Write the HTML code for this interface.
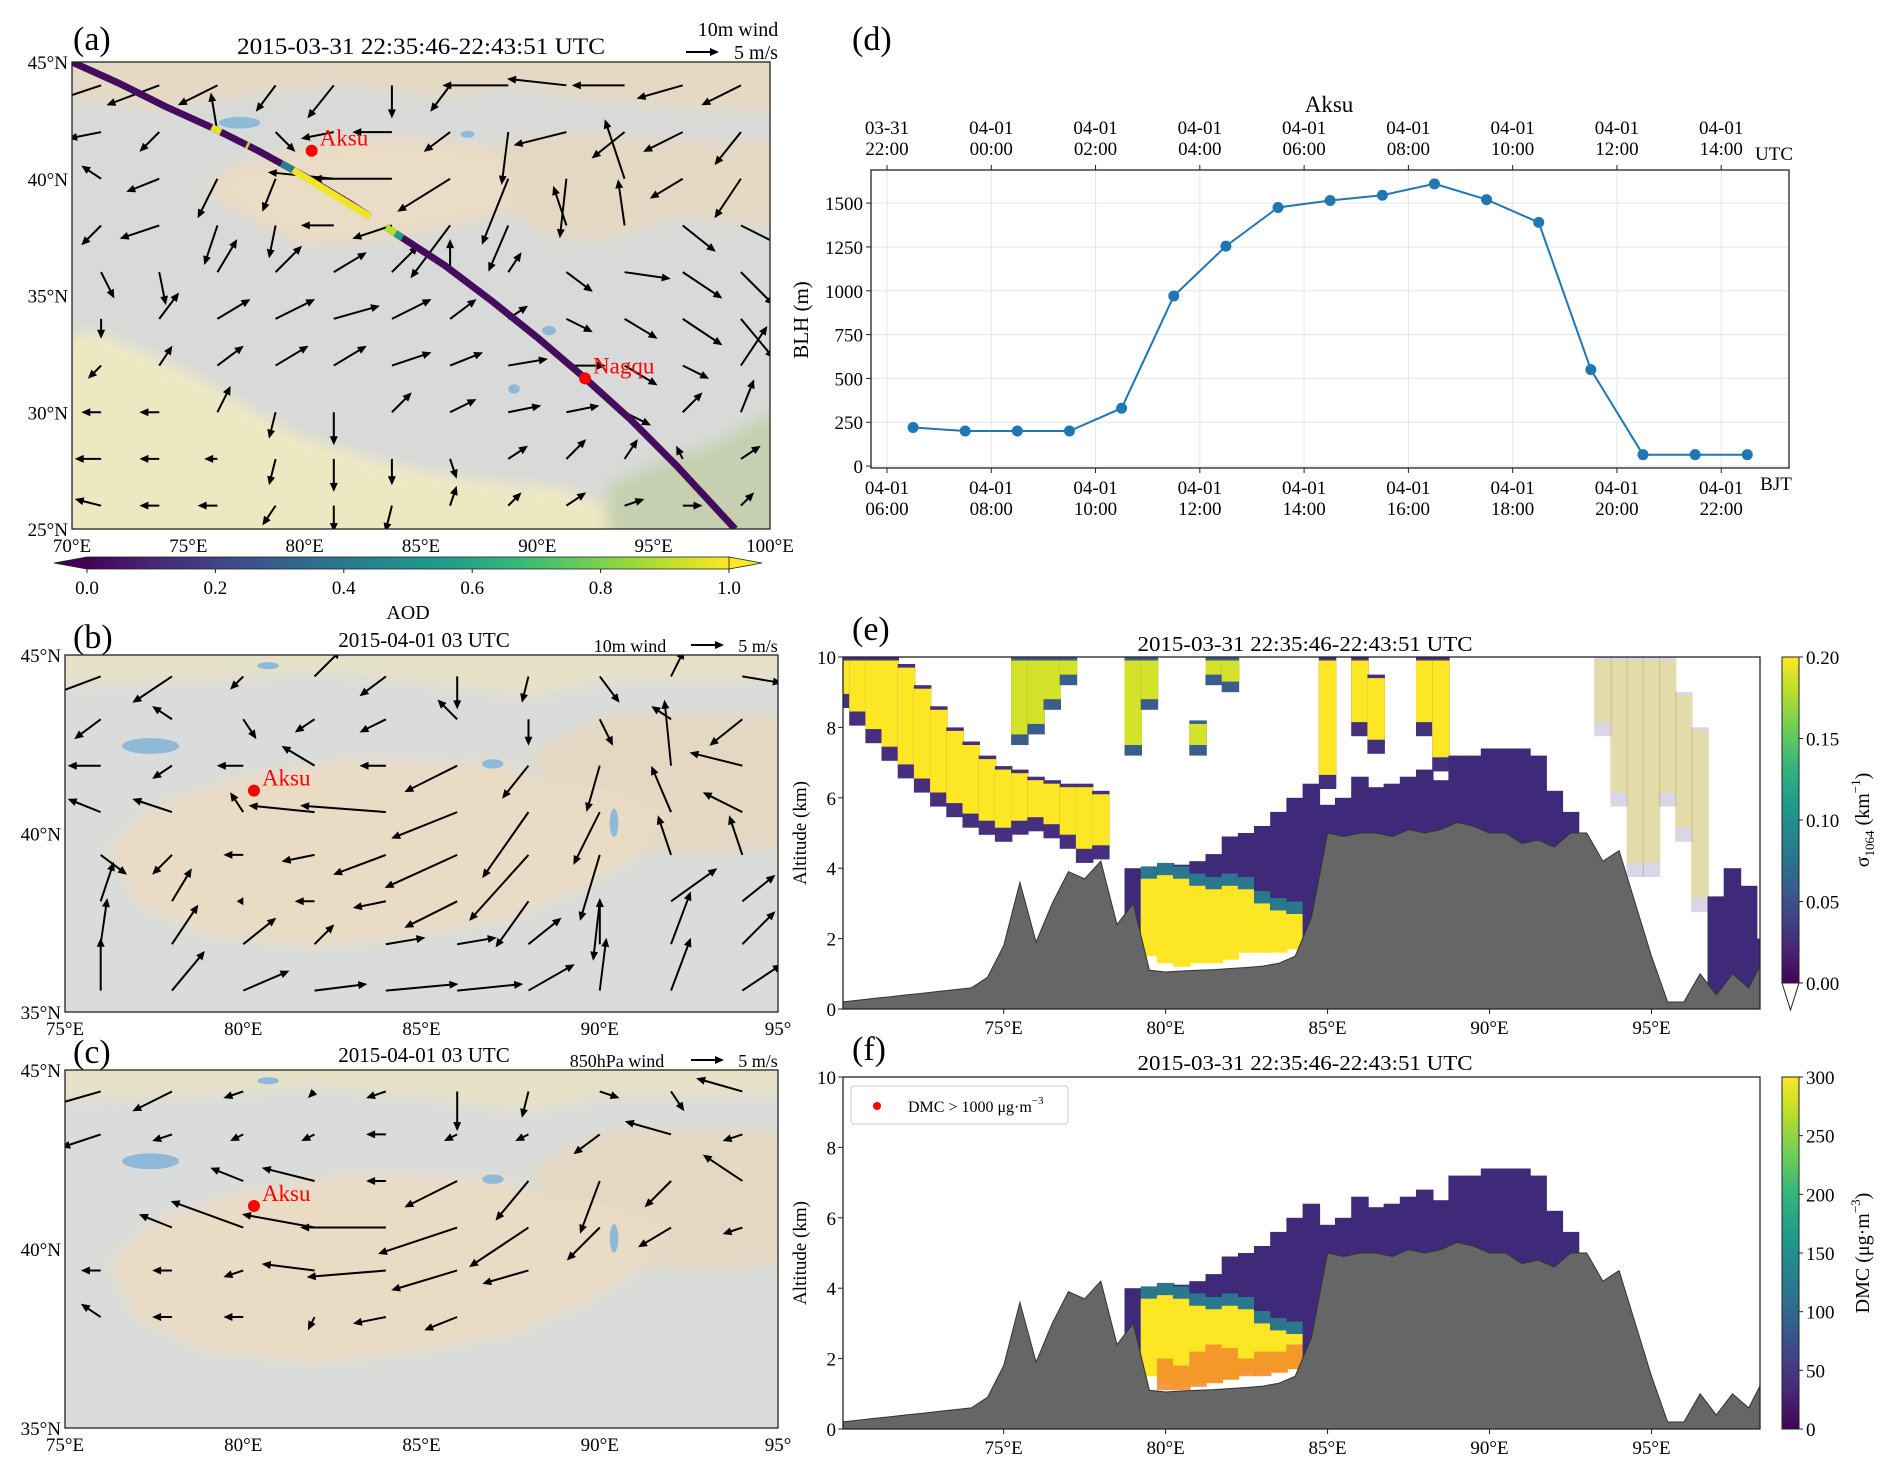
<!DOCTYPE html>
<html><head><meta charset="utf-8">
<style>
html,body{margin:0;padding:0;background:#fff;}
svg{display:block;font-family:"Liberation Serif","DejaVu Serif",serif;}
</style></head>
<body>
<svg id="fig" xmlns="http://www.w3.org/2000/svg" width="1892" height="1471" viewBox="0 0 1892 1471">
<defs>
  <filter id="soft" x="-5%" y="-5%" width="110%" height="110%"><feGaussianBlur stdDeviation="7"/></filter>
  <clipPath id="clipA"><rect x="72" y="62" width="698" height="467"/></clipPath>
  <clipPath id="clipB"><rect x="65" y="655" width="713" height="357"/></clipPath>
  <clipPath id="clipC"><rect x="65" y="1070" width="713" height="358"/></clipPath>
  <clipPath id="clipE"><rect x="843" y="657" width="917" height="352"/></clipPath>
  <clipPath id="clipF"><rect x="843" y="1077" width="917" height="352"/></clipPath>
  <linearGradient id="virH" x1="0" y1="0" x2="1" y2="0">
    <stop offset="0" stop-color="#440154"/><stop offset="0.11" stop-color="#482878"/><stop offset="0.22" stop-color="#3e4989"/><stop offset="0.33" stop-color="#31688e"/><stop offset="0.44" stop-color="#26828e"/><stop offset="0.56" stop-color="#1f9e89"/><stop offset="0.67" stop-color="#35b779"/><stop offset="0.78" stop-color="#6ece58"/><stop offset="0.89" stop-color="#b5de2b"/><stop offset="1" stop-color="#fde725"/>
  </linearGradient>
  <linearGradient id="virV" x1="0" y1="1" x2="0" y2="0">
    <stop offset="0" stop-color="#440154"/><stop offset="0.11" stop-color="#482878"/><stop offset="0.22" stop-color="#3e4989"/><stop offset="0.33" stop-color="#31688e"/><stop offset="0.44" stop-color="#26828e"/><stop offset="0.56" stop-color="#1f9e89"/><stop offset="0.67" stop-color="#35b779"/><stop offset="0.78" stop-color="#6ece58"/><stop offset="0.89" stop-color="#b5de2b"/><stop offset="1" stop-color="#fde725"/>
  </linearGradient>
</defs>

<text x="73" y="50" font-size="34">(a)</text>
<text x="421" y="54" font-size="23" text-anchor="middle" textLength="368" lengthAdjust="spacingAndGlyphs">2015-03-31 22:35:46-22:43:51 UTC</text>
<text x="738" y="36" font-size="20" text-anchor="middle">10m wind</text>
<text x="756" y="59" font-size="20" text-anchor="middle">5 m/s</text>

<text x="73" y="648" font-size="34">(b)</text>
<text x="408" y="619" font-size="20" text-anchor="middle">AOD</text>
<text x="424" y="647" font-size="21" text-anchor="middle">2015-04-01 03 UTC</text>
<text x="630" y="652" font-size="18" text-anchor="middle">10m wind</text>
<text x="758" y="652" font-size="18" text-anchor="middle">5 m/s</text>

<text x="73" y="1063" font-size="34">(c)</text>
<text x="424" y="1062" font-size="21" text-anchor="middle">2015-04-01 03 UTC</text>
<text x="617" y="1067" font-size="18" text-anchor="middle">850hPa wind</text>
<text x="758" y="1067" font-size="18" text-anchor="middle">5 m/s</text>

<text x="852" y="50" font-size="34">(d)</text>
<text x="1329" y="112" font-size="23" text-anchor="middle">Aksu</text>
<text x="1774" y="160" font-size="19" text-anchor="middle">UTC</text>
<text x="1776" y="490" font-size="19" text-anchor="middle">BJT</text>
<text x="0" y="0" font-size="21" text-anchor="middle" transform="translate(808,320) rotate(-90)">BLH (m)</text>

<text x="852" y="640" font-size="34">(e)</text>
<text x="1305" y="651" font-size="21" text-anchor="middle" textLength="335" lengthAdjust="spacingAndGlyphs">2015-03-31 22:35:46-22:43:51 UTC</text>
<text x="0" y="0" font-size="19" text-anchor="middle" transform="translate(806,833) rotate(-90)">Altitude (km)</text>
<text x="0" y="0" font-size="20" text-anchor="middle" transform="translate(1869,820) rotate(-90)">σ<tspan font-size="13" dy="5">1064</tspan><tspan dy="-5"> (km</tspan><tspan font-size="13" dy="-9">−1</tspan><tspan dy="9">)</tspan></text>

<text x="852" y="1060" font-size="34">(f)</text>
<text x="1305" y="1070" font-size="21" text-anchor="middle" textLength="335" lengthAdjust="spacingAndGlyphs">2015-03-31 22:35:46-22:43:51 UTC</text>
<text x="0" y="0" font-size="19" text-anchor="middle" transform="translate(806,1253) rotate(-90)">Altitude (km)</text>
<text x="0" y="0" font-size="20" text-anchor="middle" transform="translate(1869,1253) rotate(-90)">DMC (μg·m<tspan font-size="13" dy="-9">−3</tspan><tspan dy="9">)</tspan></text>
</svg>

<script>
// ================= DATA =================
const blhHours = [6.5,7.5,8.5,9.5,10.5,11.5,12.5,13.5,14.5,15.5,16.5,17.5,18.5,19.5,20.5,21.5,22.5];
const blhValues = [220,200,200,200,330,970,1255,1475,1515,1545,1610,1520,1390,550,65,65,65];
const blhYTicks = [0,250,500,750,1000,1250,1500];
const bjtTickHours = [6,8,10,12,14,16,18,20,22];
const bjtTickLabels = ["04-01\n06:00","04-01\n08:00","04-01\n10:00","04-01\n12:00","04-01\n14:00","04-01\n16:00","04-01\n18:00","04-01\n20:00","04-01\n22:00"];
const utcTickLabels = ["03-31\n22:00","04-01\n00:00","04-01\n02:00","04-01\n04:00","04-01\n06:00","04-01\n08:00","04-01\n10:00","04-01\n12:00","04-01\n14:00"];

const trackLon = [70,72,74,76,78,80,82,84,86,88,90,92,94,96,98.5];
const trackLat = [45,44.1,43.1,42.2,41.2,40.1,38.9,37.6,36.3,34.8,33.2,31.5,29.7,27.7,25];
const trackBaseAOD = 0.03;
const segStart = [76.0,77.5,79.0,79.5,83.5,83.9];
const segEnd   = [76.4,77.6,79.5,82.8,83.9,84.2];
const segAOD   = [0.95,0.9,0.45,0.98,0.9,0.55];

const windALons = [71.25,73.75,76.25,78.75,81.25,83.75,86.25,88.75,91.25,93.75,96.25,98.75];
const windALats = [44,42,40,38,36,34,32,30,28,26];
const windAU = [
 [-9,-8,-6,-3,-4,0,-3,-10,-9,-8,-7,-6],
 [-5,-3,-1,3,-5,-6,-4,-1,-8,-5,-6,-4],
 [-3,-5,-3,-2,-10,-12,-8,-4,-1,-3,-5,-4],
 [-3,-6,-2,-1,-5,-6,-6,-3,-2,-1,5,6],
 [2,1,3,4,5,4,0,2,4,7,6,5],
 [0,3,5,6,7,6,4,3,4,5,6,5],
 [-2,2,4,5,5,6,5,6,6,5,4,4],
 [-3,-3,2,-1,0,3,4,5,5,4,3,2],
 [-4,-3,-2,-1,0,0,1,3,3,2,-1,3],
 [-4,-3,-3,-2,0,-1,1,2,3,3,3,2]];
const windAV = [
 [-3,-3,-3,-4,-5,-5,-4,0,1,0,-2,-3],
 [-1,-3,6,-3,-1,0,-3,-8,-2,-4,-3,-5],
 [2,-2,-6,-5,1,0,-5,-10,-9,9,-3,-6],
 [-3,-2,-6,-5,0,-2,-8,-7,6,7,-4,-3],
 [-4,-5,5,4,3,4,5,3,-3,-1,-4,-5],
 [-3,4,3,3,2,3,3,2,-2,-3,-4,-6],
 [-2,3,3,3,3,2,2,1,0,-3,-2,6],
 [0,0,4,-4,-5,3,2,1,1,-2,3,5],
 [0,0,0,-4,-5,-4,-3,2,3,3,2,2],
 [1,0,0,-3,-4,-4,3,2,2,1,0,2]];

const windBLons = [76,78,80,82,84,86,88,90,92,94];
const windBLats = [44.4,43.2,41.9,40.6,39.4,38.1,36.9,35.6];
const windBU = [
 [-8,-6,-2,4,-4,0,-1,3,2,6],
 [-4,-3,2,-3,-4,-3,0,2,-3,-5],
 [-5,-3,-4,-5,-4,-8,-4,-2,-1,-8],
 [-5,-6,-2,-10,-13,-10,-7,-4,-3,-6],
 [4,-3,-3,-5,-8,-11,-9,-3,-2,-2],
 [2,3,-1,-3,-5,-8,-5,-1,7,5],
 [1,4,5,3,6,6,5,0,3,5],
 [0,5,7,8,11,10,7,1,3,6]];
const windBV = [
 [-3,-4,-2,4,-3,-5,-4,-4,4,-1],
 [-3,2,-3,-2,-2,3,-4,-4,2,-4],
 [0,-2,0,3,0,-4,-5,-7,10,2],
 [2,2,3,1,1,-4,-10,-8,7,3],
 [-3,-3,0,-1,-3,-5,-10,-10,6,6],
 [6,5,0,0,-1,-4,-7,-9,5,4],
 [7,6,4,3,1,1,4,7,8,5],
 [8,6,3,1,1,1,4,8,8,4]];
const windCU = [
 [-7,-6,-3,-1,-3,0,-1,3,2,-7],
 [-6,-3,-2,-2,-3,-2,-2,-4,-7,-3],
 [null,null,-5,-8,-3,-8,-5,-3,-4,-6],
 [null,-5,-11,-11,-13,-12,-9,-5,-5,-3],
 [-3,-3,-3,-8,-12,-10,-7,null,null,null],
 [-3,-3,-3,-1,-5,-5,null,null,null,null],
 [null,null,null,null,null,null,null,null,null,null],
 [null,null,null,null,null,null,null,null,null,null]];
const windCV = [
 [-2,-3,-1,-1,-1,-6,-4,-1,-3,2],
 [-2,-1,-1,-1,0,-1,-1,-3,2,-1],
 [null,null,2,2,0,-4,-6,-8,-4,4],
 [null,2,4,2,0,-4,-6,-5,-3,-1],
 [0,0,-1,1,-1,-3,-2,null,null,null],
 [2,0,0,-2,-1,-2,null,null,null,null],
 [null,null,null,null,null,null,null,null,null,null],
 [null,null,null,null,null,null,null,null,null,null]];

const colLon = [70,70.5,71,71.5,72,72.5,73,73.5,74,74.5,75,75.5,76,76.5,77,77.5,78,78.5,79,79.5,80,80.5,81,81.5,82,82.5,83,83.5,84,84.5,85,85.5,86,86.5,87,87.5,88,88.5,89,89.5,90,90.5,91,91.5,92,92.5,93,93.5,94,94.5,95,95.5,96,96.5,97,97.5,98,98.5];
const surfaceAlt = [0.2,0.25,0.3,0.35,0.4,0.45,0.5,0.55,0.6,0.9,1.8,3.6,1.9,3.0,3.9,3.7,4.2,2.4,3.0,1.1,1.05,1.08,1.1,1.12,1.15,1.18,1.22,1.3,1.5,2.6,5.0,4.9,5.0,5.0,4.9,5.1,5.0,5.1,5.3,5.2,5.0,5.0,4.7,4.8,4.6,5.0,5.0,4.2,4.5,3.0,1.5,0.2,0.2,1.0,0.4,1.0,0.6,1.5];
const cloudABot = [8.8,8.3,7.8,7.3,6.8,6.4,6.0,5.7,5.4,5.2,5.0,5.2,5.3,5.1,4.8,4.4,4.5,0,0,0,0,0,0,0,0,0,0,0,0,0,6.5,0,8.0,7.5,0,0,8.0,7.0,0,0,0,0,0,0,0,0,0,8.0,6.0,4.0,4.0,6.0,5.0,3.0,0,0,0,0];
const cloudATop = [10,10,10,10,9.8,9.2,8.6,8.0,7.6,7.2,6.9,6.8,6.6,6.5,6.4,6.4,6.2,0,0,0,0,0,0,0,0,0,0,0,0,0,10,0,10,9.5,0,0,10,10,0,0,0,0,0,0,0,0,0,10,10,10,10,10,9,8,0,0,0,0];
const cloudBBot = [0,0,0,0,0,0,0,0,0,0,0,7.5,7.8,8.5,9.2,0,0,0,7.2,8.5,0,0,7.2,9.2,9.0,0,0,0,0,0,0,0,0,0,0,0,0,0,0,0,0,0,0,0,0,0,0,0,0,0,0,0,0,0,0,0,0,0];
const cloudBTop = [0,0,0,0,0,0,0,0,0,0,0,10,10,10,10,0,0,0,10,10,0,0,8.2,10,10,0,0,0,0,0,0,0,0,0,0,0,0,0,0,0,0,0,0,0,0,0,0,0,0,0,0,0,0,0,0,0,0,0];
const aerTop = [0,0,0,0,0,0,0,0,0,0,0,0,0,0,0,0,0,0,4.0,3.8,3.9,4.1,4.2,4.4,4.9,5.0,5.2,5.6,6.0,6.4,5.8,6.0,6.6,6.3,6.4,6.6,6.8,6.5,7.2,7.2,7.4,7.4,7.4,7.2,6.2,5.6,0,0,0,0,0,0,0,0,3.2,4.0,3.5,2.0];
const dustBot = [0,0,0,0,0,0,0,0,0,0,0,0,0,0,0,0,0,0,0,1.5,1.3,1.2,1.3,1.3,1.4,1.6,1.6,1.6,1.7,0,0,0,0,0,0,0,0,0,0,0,0,0,0,0,0,0,0,0,0,0,0,0,0,0,0,0,0,0];
const dustTop = [0,0,0,0,0,0,0,0,0,0,0,0,0,0,0,0,0,0,0,3.7,3.8,3.7,3.5,3.4,3.5,3.4,3.0,2.8,2.7,0,0,0,0,0,0,0,0,0,0,0,0,0,0,0,0,0,0,0,0,0,0,0,0,0,0,0,0,0];
const dmcHighBot = [0,0,0,0,0,0,0,0,0,0,0,0,0,0,0,0,0,0,0,0,1.1,1.1,1.2,1.3,1.4,1.5,1.5,1.6,1.7,0,0,0,0,0,0,0,0,0,0,0,0,0,0,0,0,0,0,0,0,0,0,0,0,0,0,0,0,0];
const dmcHighTop = [0,0,0,0,0,0,0,0,0,0,0,0,0,0,0,0,0,0,0,0,2.0,1.8,2.2,2.4,2.3,2.0,2.2,2.2,2.4,0,0,0,0,0,0,0,0,0,0,0,0,0,0,0,0,0,0,0,0,0,0,0,0,0,0,0,0,0];
const altTicks = [0,2,4,6,8,10];
const lonTicksEF = [75,80,85,90,95];
const cbETicks = [0,0.05,0.10,0.15,0.20];
const cbFTicks = [0,50,100,150,200,250,300];

// ================= HELPERS =================
const NS = 'http://www.w3.org/2000/svg';
const svg = document.getElementById('fig');
function mk(tag, attrs, parent){
  const e = document.createElementNS(NS, tag);
  for (const k in attrs) e.setAttribute(k, attrs[k]);
  (parent || svg).appendChild(e);
  return e;
}
const VIR = ['#440154','#482878','#3e4989','#31688e','#26828e','#1f9e89','#35b779','#6ece58','#b5de2b','#fde725'];
function hex2rgb(h){return [parseInt(h.substr(1,2),16),parseInt(h.substr(3,2),16),parseInt(h.substr(5,2),16)];}
function viridis(t){
  t = Math.max(0, Math.min(1, t));
  const p = t*(VIR.length-1), i = Math.min(Math.floor(p), VIR.length-2), f = p-i;
  const a = hex2rgb(VIR[i]), b = hex2rgb(VIR[i+1]);
  return 'rgb('+a.map((v,k)=>Math.round(v+(b[k]-v)*f)).join(',')+')';
}
function interpLat(lon){
  for (let i=0;i<trackLon.length-1;i++){
    if (lon>=trackLon[i] && lon<=trackLon[i+1]){
      const f=(lon-trackLon[i])/(trackLon[i+1]-trackLon[i]);
      return trackLat[i]+f*(trackLat[i+1]-trackLat[i]);
    }
  }
  return trackLat[trackLat.length-1];
}
function arrowPath(x, y, dx, dy){
  const L = Math.hypot(dx, dy);
  if (L < 0.5) return '';
  const ux = dx/L, uy = dy/L, px = -uy, py = ux;
  const hl = Math.min(9, L), hw = 4, w = 1.0;
  const bx = x + ux*(L-hl), by = y + uy*(L-hl);
  const pts = [
    [x+px*w, y+py*w], [bx+px*w, by+py*w], [bx+px*hw, by+py*hw], [x+dx, y+dy],
    [bx-px*hw, by-py*hw], [bx-px*w, by-py*w], [x-px*w, y-py*w]];
  return 'M'+pts.map(p=>p[0].toFixed(1)+','+p[1].toFixed(1)).join('L')+'Z';
}

// ================= MAP PANELS =================
function makeMap(cfg){
  const X = lon => cfg.x0 + (lon-cfg.lon0)/(cfg.lon1-cfg.lon0)*(cfg.x1-cfg.x0);
  const Y = lat => cfg.y1 - (lat-cfg.lat0)/(cfg.lat1-cfg.lat0)*(cfg.y1-cfg.y0);
  const g = mk('g', {'clip-path':'url(#'+cfg.clip+')'});
  
  
  const base = mk('rect', {x:cfg.x0-20, y:cfg.y0-20, width:cfg.x1-cfg.x0+40, height:cfg.y1-cfg.y0+40, fill:cfg.base}, g);
  
  
  const rg = mk('g', {filter:'url(#soft)'}, g);
  
  
  cfg.regions.forEach(r=>{
    const poly = mk('polygon', {points:r.pts.map(p=>X(p[0]).toFixed(1)+','+Y(p[1]).toFixed(1)).join(' '), fill:r.fill}, rg);
    
    
  });
  (cfg.lakes||[]).forEach(l=>{
    const e = mk('ellipse', {cx:X(l[0]), cy:Y(l[1]), rx:l[2]*(cfg.x1-cfg.x0)/(cfg.lon1-cfg.lon0), ry:l[3]*(cfg.y1-cfg.y0)/(cfg.lat1-cfg.lat0), fill:'#8fb9d9'}, g);
    
    
  });
  const scale = cfg.arrowScale;
  for (let r=0;r<cfg.wLats.length;r++){
    for (let c=0;c<cfg.wLons.length;c++){
      const u = cfg.wU[r][c], v = cfg.wV[r][c];
      if (u===null || v===null) continue;
      const d = arrowPath(X(cfg.wLons[c]), Y(cfg.wLats[r]), u*scale, -v*scale);
      if (!d) continue;
      const a = mk('path', {d:d, fill:'#000'}, g);
      
      
    }
  }
  cfg.top && cfg.top(g, X, Y);
  const fr = mk('rect', {x:cfg.x0, y:cfg.y0, width:cfg.x1-cfg.x0, height:cfg.y1-cfg.y0, fill:'none', stroke:'#222', 'stroke-width':1.3});
  
  
  cfg.latTicks.forEach(lat=>{
    const t = mk('text', {x:cfg.x0-4, y:Y(lat)+7, 'font-size':19, 'text-anchor':'end'});
    
    
    t.textContent = lat+'°N';
  });
  cfg.lonTicks.forEach(lon=>{
    const t = mk('text', {x:X(lon), y:cfg.y1+23, 'font-size':19, 'text-anchor':'middle'});
    
    
    t.textContent = (lon===95 && cfg.lon1===95) ? '95°' : lon+'°E';
  });
  cfg.sites.forEach(s=>{
    const dot = mk('circle', {cx:X(s.lon), cy:Y(s.lat), r:6, fill:'#ff0000'});
    
    
    const t = mk('text', {x:X(s.lon)+8, y:Y(s.lat)-5, 'font-size':23, fill:'#ff0000'});
    
    
    t.textContent = s.label;
  });
  const ka = mk('path', {d:arrowPath(cfg.keyX, cfg.keyY, 5*scale, 0), fill:'#000'});
  
  
  return {X, Y};
}

makeMap({
  name:'panel-a', clip:'clipA', x0:72, x1:770, y0:62, y1:529, lon0:70, lon1:100, lat0:25, lat1:45,
  base:'#d8dad9',
  regions:[
    {name:'north-desert', fill:'#e6d9c3', pts:[[70,46],[70,43.3],[74,43],[78,43.6],[82,44],[86,43.4],[89,44],[92,43.4],[96,43],[101,42.8],[101,46]]},
    {name:'tarim-basin', fill:'#eadcc5', pts:[[75.5,39.5],[77,40.6],[80,41.4],[84,41.9],[88,41.4],[90,40.6],[91,39.2],[88,38.3],[84,37.4],[80,37.1],[77.5,38.3]]},
    {name:'east-desert', fill:'#e5d8c2', pts:[[88.5,41.6],[92,42],[96,41.6],[101,41.6],[101,37.8],[96,38.4],[93,37.3],[90,37.6],[89,38.8]]},
    {name:'india-plain', fill:'#eee8c2', pts:[[69,24],[69,33],[71,33.5],[73.5,32.4],[75.5,31.5],[77.5,30.2],[80,28.9],[84,27.7],[88,27],[91,26.8],[93,26],[93,24]]},
    {name:'southeast-lowland', fill:'#c6d0b0', pts:[[93,24],[93,26.8],[95.5,28],[97.5,28.6],[101,30.5],[101,24]]}
  ],
  lakes:[[77.2,42.4,0.9,0.25],[87,41.9,0.3,0.15],[90.5,33.5,0.3,0.2],[89,31,0.25,0.2]],
  wLons:windALons, wLats:windALats, wU:windAU, wV:windAV, arrowScale:6.6,
  top:(g,X,Y)=>{
    const seg1 = [], seg2 = [];
    for (let i=0;i<trackLon.length;i++){
      if (trackLon[i] <= 82.8) seg1.push([trackLon[i],trackLat[i]]);
      else seg2.push([trackLon[i],trackLat[i]]);
    }
    seg1.push([82.8, interpLat(82.8)]);
    seg2.unshift([83.5, interpLat(83.5)]);
    [seg1, seg2].forEach(s=>{
      const pl = mk('polyline', {points:s.map(p=>X(p[0]).toFixed(1)+','+Y(p[1]).toFixed(1)).join(' '), fill:'none', stroke:viridis(trackBaseAOD), 'stroke-width':7}, g);
      
      
    });
    for (let i=0;i<segStart.length;i++){
      const ln = mk('line', {x1:X(segStart[i]), y1:Y(interpLat(segStart[i])), x2:X(segEnd[i]), y2:Y(interpLat(segEnd[i])), stroke:viridis(segAOD[i]), 'stroke-width':7}, g);
      
      
    }
  },
  latTicks:[25,30,35,40,45], lonTicks:[70,75,80,85,90,95,100],
  sites:[{lon:80.3,lat:41.2,label:'Aksu'},{lon:92.05,lat:31.45,label:'Nagqu'}],
  keyX:686, keyY:52
});

(function(){
  const x0=87, x1=729, y0=557, y1=569;
  const lt = mk('polygon', {points:x0+','+y0+' '+x0+','+y1+' 54,'+((y0+y1)/2), fill:viridis(0), stroke:'#222', 'stroke-width':0.8});
  
  
  const rt = mk('polygon', {points:x1+','+y0+' '+x1+','+y1+' 762,'+((y0+y1)/2), fill:viridis(1), stroke:'#222', 'stroke-width':0.8});
  
  
  const cb = mk('rect', {x:x0, y:y0, width:x1-x0, height:y1-y0, fill:'url(#virH)', stroke:'#222', 'stroke-width':0.8});
  
  
  [0,0.2,0.4,0.6,0.8,1.0].forEach(v=>{
    const xx = x0 + v*(x1-x0);
    const tk = mk('line', {x1:xx, y1:y1, x2:xx, y2:y1+4, stroke:'#222'});
    
    
    const t = mk('text', {x:xx, y:594, 'font-size':19, 'text-anchor':'middle'});
    
    
    t.textContent = v.toFixed(1);
  });
})();

const regionsBC = [
  {name:'north-desert', fill:'#e7e1c8', pts:[[74,46],[74,44.1],[78,44.2],[82,44.5],[85,44.2],[88,43.8],[90,44.2],[96,44.3],[96,46]]},
  {name:'east-desert', fill:'#e4d8c3', pts:[[88,42.2],[90,43.3],[93,43.4],[96,43.2],[96,39.6],[93,39.4],[90,39.6]]},
  {name:'tarim-basin', fill:'#eadbc4', pts:[[76.2,39.6],[77.5,40.8],[80,41.6],[83,42.1],[87,42],[88.5,41.5],[90.5,41.2],[92,40.5],[91,39.3],[89.5,38.4],[87.5,37.6],[85,37.1],[82,36.8],[79,37.1],[77,38]]}
];
const lakesBC = [[77.4,42.45,0.8,0.22],[87.0,41.95,0.3,0.13],[80.7,44.7,0.3,0.1],[90.4,40.3,0.12,0.4]];

makeMap({
  name:'panel-b', clip:'clipB', x0:65, x1:778, y0:655, y1:1012, lon0:75, lon1:95, lat0:35, lat1:45,
  base:'#d9dcdb', regions:regionsBC, lakes:lakesBC,
  wLons:windBLons, wLats:windBLats, wU:windBU, wV:windBV, arrowScale:6.6,
  latTicks:[35,40,45], lonTicks:[75,80,85,90,95],
  sites:[{lon:80.3,lat:41.2,label:'Aksu'}], keyX:691, keyY:645
});
makeMap({
  name:'panel-c', clip:'clipC', x0:65, x1:778, y0:1070, y1:1428, lon0:75, lon1:95, lat0:35, lat1:45,
  base:'#d9dcdb', regions:regionsBC, lakes:lakesBC,
  wLons:windBLons, wLats:windBLats, wU:windCU, wV:windCV, arrowScale:6.6,
  latTicks:[35,40,45], lonTicks:[75,80,85,90,95],
  sites:[{lon:80.3,lat:41.2,label:'Aksu'}], keyX:691, keyY:1060
});

// ================= PANEL D =================
(function(){
  const px0=871, px1=1789, py0=170, py1=468;
  const xMin=5+41.6/60, xMax=23.3, yMin=-11, yMax=1689;
  const X = h => px0 + (h-xMin)/(xMax-xMin)*(px1-px0);
  const Y = v => py1 - (v-yMin)/(yMax-yMin)*(py1-py0);
  bjtTickHours.forEach((h,i)=>{
    const gl = mk('line', {x1:X(h), y1:py0, x2:X(h), y2:py1, stroke:'#e6e6e6', 'stroke-width':1});
    
    
  });
  blhYTicks.forEach(v=>{
    const gl = mk('line', {x1:px0, y1:Y(v), x2:px1, y2:Y(v), stroke:'#e6e6e6', 'stroke-width':1});
    
    
    const tk = mk('line', {x1:px0-5, y1:Y(v), x2:px0, y2:Y(v), stroke:'#222'});
    
    
    const t = mk('text', {x:px0-8, y:Y(v)+7, 'font-size':19, 'text-anchor':'end'});
    
    
    t.textContent = v;
  });
  bjtTickHours.forEach((h,i)=>{
    const tb = mk('line', {x1:X(h), y1:py1, x2:X(h), y2:py1+5, stroke:'#222'});
    
    
    const tt = mk('line', {x1:X(h), y1:py0-5, x2:X(h), y2:py0, stroke:'#222'});
    
    
    const lb = bjtTickLabels[i].split('\n');
    const t1 = mk('text', {x:X(h), y:494, 'font-size':19, 'text-anchor':'middle'});
    
    
    t1.textContent = lb[0];
    const t2 = mk('text', {x:X(h), y:515, 'font-size':19, 'text-anchor':'middle'});
    
    
    t2.textContent = lb[1];
    const ub = utcTickLabels[i].split('\n');
    const u1 = mk('text', {x:X(h), y:134, 'font-size':19, 'text-anchor':'middle'});
    
    
    u1.textContent = ub[0];
    const u2 = mk('text', {x:X(h), y:155, 'font-size':19, 'text-anchor':'middle'});
    
    
    u2.textContent = ub[1];
  });
  const line = mk('polyline', {points:blhHours.map((h,i)=>X(h).toFixed(1)+','+Y(blhValues[i]).toFixed(1)).join(' '), fill:'none', stroke:'#1f77b4', 'stroke-width':2});
  
  
  blhHours.forEach((h,i)=>{
    const c = mk('circle', {cx:X(h), cy:Y(blhValues[i]), r:5.5, fill:'#1f77b4'});
    
    
  });
  const fr = mk('rect', {x:px0, y:py0, width:px1-px0, height:py1-py0, fill:'none', stroke:'#222', 'stroke-width':1.3});
  
  
})();

// ================= PANELS E, F =================
function makeCurtain(cfg){
  const px0=843, px1=1760, py0=cfg.y0, py1=cfg.y0+352;
  const lonMin=70.04, lonMax=98.35;
  const X = lon => px0 + (lon-lonMin)/(lonMax-lonMin)*(px1-px0);
  const Y = a => py1 - a/10*(py1-py0);
  const g = mk('g', {'clip-path':'url(#'+cfg.clip+')'});
  
  
  function col(i, bot, top, fill, name, op){
    if (!(top > bot)) return;
    const r = mk('rect', {x:X(colLon[i]-0.27).toFixed(1), y:Y(top).toFixed(1), width:(X(colLon[i]+0.27)-X(colLon[i]-0.27)).toFixed(1), height:(Y(bot)-Y(top)).toFixed(1), fill:fill, opacity:op||1}, g);
    
    
  }
  for (let i=0;i<colLon.length;i++){
    if (cfg.clouds){
      const sparse = colLon[i] >= 93;
      col(i, cloudABot[i]-0.25, cloudATop[i], '#46307e', 'cloud-edge', sparse?0.2:1);
      col(i, cloudABot[i]+0.15, cloudATop[i]-0.1, '#fde725', 'cloud-cell', sparse?0.3:1);
      col(i, cloudBBot[i], cloudBTop[i], '#3a5d8c', 'cloud-edge');
      col(i, cloudBBot[i]+0.3, cloudBTop[i]-0.1, '#d5e22a', 'cloud-cell');
    }
    if (colLon[i] < cfg.aerMaxLon){
      const aBot = dustTop[i] > 0 ? dustTop[i] : 0;
      col(i, aBot, aerTop[i], '#3f2a7a', 'aerosol-cell');
    }
    if (dustTop[i] > 0){
      col(i, dustTop[i], dustTop[i]+0.35, '#2a788e', 'aerosol-transition-cell');
      col(i, dustBot[i], dustTop[i], '#fde725', 'dust-cell');
    }
    if (cfg.orange){
      col(i, dmcHighBot[i], dmcHighTop[i], '#f28a2a', 'dmc-high-cell', 0.85);
    }
  }
  const pts = [[X(colLon[0]), Y(0)]];
  for (let i=0;i<colLon.length;i++) pts.push([X(colLon[i]), Y(surfaceAlt[i])]);
  pts.push([X(colLon[colLon.length-1]+0.5), Y(surfaceAlt[colLon.length-1])]);
  pts.push([X(colLon[colLon.length-1]+0.5), Y(0)]);
  const ter = mk('polygon', {points:pts.map(p=>p[0].toFixed(1)+','+p[1].toFixed(1)).join(' '), fill:'#666666', stroke:'#333', 'stroke-width':1}, g);
  
  
  const fr = mk('rect', {x:px0, y:py0, width:px1-px0, height:py1-py0, fill:'none', stroke:'#222', 'stroke-width':1.3});
  
  
  altTicks.forEach(a=>{
    const tk = mk('line', {x1:px0-5, y1:Y(a), x2:px0, y2:Y(a), stroke:'#222'});
    
    
    const t = mk('text', {x:px0-7, y:Y(a)+7, 'font-size':19, 'text-anchor':'end'});
    
    
    t.textContent = a;
  });
  lonTicksEF.forEach(l=>{
    const tk = mk('line', {x1:X(l), y1:py1, x2:X(l), y2:py1+5, stroke:'#222'});
    
    
    const t = mk('text', {x:X(l), y:py1+25, 'font-size':19, 'text-anchor':'middle'});
    
    
    t.textContent = l+'°E';
  });
  const cx0=1782, cx1=1799, cy0=py0, cy1=cfg.cbBottom;
  if (cfg.extend){
    const tri = mk('polygon', {points:cx0+','+cy1+' '+cx1+','+cy1+' '+((cx0+cx1)/2)+','+(cy1+27), fill:'#fff', stroke:'#222', 'stroke-width':1});
    
    
  }
  const cb = mk('rect', {x:cx0, y:cy0, width:cx1-cx0, height:cy1-cy0, fill:'url(#virV)', stroke:'#222', 'stroke-width':1});
  
  
  const tmax = cfg.ticks[cfg.ticks.length-1];
  cfg.ticks.forEach(v=>{
    const yy = cy1 - v/tmax*(cy1-cy0);
    const tk = mk('line', {x1:cx1, y1:yy, x2:cx1+4, y2:yy, stroke:'#222'});
    
    
    const t = mk('text', {x:cx1+7, y:yy+7, 'font-size':19});
    
    
    t.textContent = cfg.fmt(v);
  });
}
makeCurtain({name:'panel-e', clip:'clipE', y0:657, clouds:true, orange:false, extend:true, cbBottom:983, ticks:cbETicks, fmt:v=>v.toFixed(2), aerMaxLon:100});
makeCurtain({name:'panel-f', clip:'clipF', y0:1077, clouds:false, orange:true, extend:false, cbBottom:1429, ticks:cbFTicks, fmt:v=>String(v), aerMaxLon:95});

(function(){
  const box = mk('rect', {x:851, y:1086, width:217, height:38, rx:3, fill:'#fff', stroke:'#cccccc', 'stroke-width':1});
  
  
  const dot = mk('circle', {cx:877, cy:1106, r:4, fill:'#ff0000'});
  
  
  const t = mk('text', {x:908, y:1112, 'font-size':16});
  
  
  t.innerHTML = 'DMC &gt; 1000 μg·m<tspan font-size="11" dy="-8">−3</tspan>';
})();
</script>
</body></html>
